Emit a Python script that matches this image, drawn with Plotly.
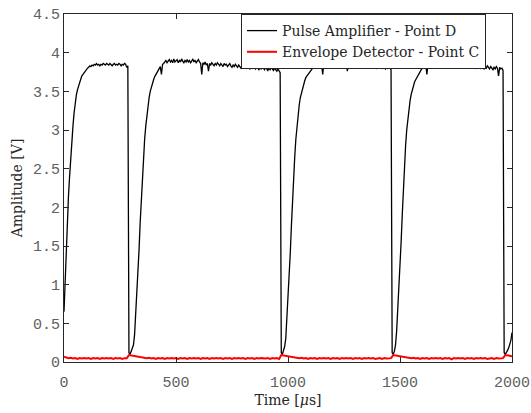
import numpy as np
import plotly.graph_objects as go

# Pulse amplifier (point D), sampled every 5 us, one list per segment
step_d = 5
rise_1 = [0.65, 1.10, 1.47, 1.90, 2.15, 2.40, 2.65, 2.88, 3.05, 3.22,
          3.35, 3.45, 3.52, 3.58, 3.63, 3.66, 3.70, 3.72, 3.75, 3.77,
          3.79, 3.80, 3.81, 3.83, 3.82]  # t = 0 .. 120
plateau_1 = [3.84, 3.83, 3.85, 3.84, 3.86, 3.84, 3.85, 3.83, 3.85, 3.84,
             3.86, 3.85, 3.84, 3.86, 3.85, 3.84, 3.86, 3.85, 3.83, 3.85,
             3.86, 3.84, 3.85, 3.84, 3.86, 3.85, 3.83, 3.85, 3.84, 3.86,
             3.85, 3.81, 3.83]  # t = 125 .. 285
rise_2 = [0.12, 0.10, 0.14, 0.18, 0.22, 0.35, 0.60, 0.85, 1.15, 1.45,
          1.80, 2.10, 2.40, 2.65, 2.88, 3.05, 3.20, 3.33, 3.42, 3.50,
          3.56, 3.61, 3.65, 3.69, 3.72, 3.74, 3.77, 3.79, 3.82, 3.72,
          3.85, 3.86]  # t = 290 .. 445
plateau_2 = [3.88, 3.90, 3.87, 3.89, 3.91, 3.88, 3.90, 3.87, 3.92, 3.88,
             3.89, 3.91, 3.87, 3.90, 3.88, 3.92, 3.89, 3.87, 3.90, 3.88,
             3.91, 3.88, 3.90, 3.87, 3.89, 3.92, 3.88, 3.90, 3.87, 3.89,
             3.91, 3.88, 3.86, 3.72, 3.87, 3.85, 3.88, 3.84, 3.86, 3.76,
             3.86, 3.84, 3.87, 3.85, 3.83, 3.86, 3.84, 3.87, 3.85, 3.83,
             3.86, 3.84, 3.82, 3.86, 3.84, 3.85, 3.82, 3.84, 3.86, 3.83,
             3.81, 3.84, 3.82, 3.85, 3.83, 3.81, 3.84, 3.82, 3.80, 3.83,
             3.81, 3.84, 3.82, 3.80, 3.83, 3.81, 3.79, 3.82, 3.80, 3.83,
             3.81, 3.79, 3.82, 3.80, 3.78, 3.81, 3.79, 3.82, 3.80, 3.78,
             3.81, 3.79, 3.77, 3.80, 3.78, 3.81, 3.79, 3.77, 3.80, 3.78,
             3.76, 3.79, 3.77, 3.74]  # t = 450 .. 965
rise_3 = [0.12, 0.10, 0.15, 0.20, 0.30, 0.55, 0.80, 1.05, 1.40, 1.75,
          2.10, 2.40, 2.65, 2.88, 3.05, 3.20, 3.32, 3.42, 3.48, 3.55,
          3.60, 3.64, 3.68, 3.70, 3.73, 3.75, 3.77, 3.79, 3.80, 3.82,
          3.81, 3.84]  # t = 970 .. 1125
plateau_3 = [3.83, 3.86, 3.84, 3.88, 3.85, 3.72, 3.86, 3.84, 3.88, 3.85,
             3.83, 3.87, 3.84, 3.86, 3.90, 3.84, 3.86, 3.83, 3.87, 3.85,
             3.84, 3.88, 3.85, 3.83, 3.86, 3.84, 3.87, 3.76, 3.85, 3.83,
             3.86, 3.84, 3.87, 3.85, 3.83, 3.86, 3.84, 3.82, 3.85, 3.83,
             3.86, 3.84, 3.82, 3.85, 3.83, 3.81, 3.84, 3.82, 3.85, 3.83,
             3.81, 3.84, 3.82, 3.80, 3.83, 3.81, 3.84, 3.82, 3.80, 3.83,
             3.81, 3.79, 3.82, 3.80, 3.83, 3.81, 3.78]  # t = 1130 .. 1460
rise_4 = [0.12, 0.10, 0.14, 0.22, 0.40, 0.65, 0.90, 1.20, 1.55, 1.90,
          2.25, 2.55, 2.80, 3.00, 3.15, 3.28, 3.38, 3.46, 3.52, 3.57,
          3.62, 3.65, 3.68, 3.71, 3.73, 3.75, 3.78, 3.80, 3.82, 3.81,
          3.84, 3.72, 3.85]  # t = 1465 .. 1625
plateau_4 = [3.87, 3.84, 3.86, 3.89, 3.85, 3.87, 3.84, 3.88, 3.86, 3.84,
             3.87, 3.85, 3.83, 3.86, 3.84, 3.87, 3.85, 3.83, 3.86, 3.84,
             3.82, 3.85, 3.83, 3.86, 3.84, 3.82, 3.85, 3.83, 3.86, 3.84,
             3.82, 3.85, 3.83, 3.81, 3.84, 3.82, 3.85, 3.83, 3.81, 3.84,
             3.82, 3.80, 3.83, 3.81, 3.84, 3.82, 3.80, 3.83, 3.81, 3.79,
             3.82, 3.80, 3.83, 3.81, 3.79, 3.82, 3.80, 3.78, 3.81, 3.79,
             3.82, 3.80, 3.70, 3.81, 3.79, 3.80, 3.77]  # t = 1630 .. 1960
tail = [0.12, 0.10, 0.12, 0.15, 0.18, 0.22, 0.28, 0.38]  # t = 1965 .. 2000

# Envelope detector (point C), sampled every 10 us
step_c = 10
envelope_v = [
    0.070, 0.060, 0.050, 0.055, 0.045, 0.050, 0.040, 0.050, 0.045, 0.050,
    0.045, 0.050, 0.040, 0.050, 0.045, 0.050, 0.040, 0.050, 0.045, 0.050,
    0.045, 0.050, 0.040, 0.050, 0.045, 0.050, 0.040, 0.050, 0.050, 0.090,
    0.085, 0.080, 0.075, 0.070, 0.065, 0.060, 0.055, 0.050, 0.055, 0.045,
    0.050, 0.040, 0.050, 0.045, 0.050, 0.040, 0.050, 0.045, 0.050, 0.045,
    0.050, 0.040, 0.050, 0.045, 0.050, 0.040, 0.050, 0.045, 0.050, 0.045,
    0.050, 0.040, 0.050, 0.045, 0.050, 0.040, 0.050, 0.045, 0.050, 0.045,
    0.050, 0.040, 0.050, 0.045, 0.050, 0.040, 0.050, 0.045, 0.050, 0.045,
    0.050, 0.040, 0.050, 0.045, 0.050, 0.040, 0.050, 0.045, 0.050, 0.045,
    0.045, 0.050, 0.040, 0.050, 0.045, 0.050, 0.040, 0.090, 0.085, 0.080,
    0.075, 0.070, 0.065, 0.060, 0.055, 0.050, 0.055, 0.045, 0.050, 0.040,
    0.050, 0.045, 0.050, 0.040, 0.050, 0.045, 0.050, 0.045, 0.050, 0.040,
    0.050, 0.045, 0.050, 0.040, 0.050, 0.045, 0.050, 0.045, 0.050, 0.040,
    0.050, 0.045, 0.050, 0.040, 0.050, 0.045, 0.050, 0.045, 0.050, 0.040,
    0.045, 0.050, 0.040, 0.050, 0.045, 0.050, 0.050, 0.090, 0.085, 0.080,
    0.075, 0.070, 0.065, 0.060, 0.055, 0.050, 0.055, 0.045, 0.050, 0.040,
    0.050, 0.045, 0.050, 0.040, 0.050, 0.045, 0.050, 0.045, 0.050, 0.040,
    0.050, 0.045, 0.050, 0.035, 0.050, 0.045, 0.050, 0.045, 0.050, 0.040,
    0.050, 0.045, 0.050, 0.040, 0.050, 0.045, 0.050, 0.045, 0.050, 0.040,
    0.045, 0.050, 0.040, 0.050, 0.045, 0.050, 0.050, 0.090, 0.085, 0.080,
    0.075,
]

x_ticks = [0, 500, 1000, 1500, 2000]
y_ticks = [0, 0.5, 1, 1.5, 2, 2.5, 3, 3.5, 4, 4.5]

# Build the time base of each segment from its start time
segments = [(0, rise_1), (125, plateau_1), (290, rise_2), (450, plateau_2),
            (970, rise_3), (1130, plateau_3), (1465, rise_4),
            (1630, plateau_4), (1965, tail)]
t_d, v_d = [], []
for start, vals in segments:
    t_d.extend(start + step_d * np.arange(len(vals)))
    v_d.extend(vals)
t_c = step_c * np.arange(len(envelope_v))

fig = go.Figure()
fig.add_trace(go.Scatter(
    x=t_d, y=v_d, mode='lines',
    name='Pulse Amplifier - Point D',
    line=dict(color='black', width=1.3)
))
fig.add_trace(go.Scatter(
    x=t_c, y=envelope_v, mode='lines',
    name='Envelope Detector - Point C',
    line=dict(color='#ff0000', width=2)
))

axis_style = dict(
    showline=True, linecolor='#262626', linewidth=1, mirror='ticks',
    ticks='inside', ticklen=5, tickcolor='#262626', showgrid=False,
    zeroline=False, automargin=False,
    tickfont=dict(family='Liberation Mono', size=15, color='#606060'),
    title_font=dict(family='DejaVu Serif', size=14, color='#262626'),
)

fig.update_layout(
    width=531, height=413,
    margin=dict(l=64, r=19, t=14, b=51),
    plot_bgcolor='white', paper_bgcolor='white',
    xaxis=dict(range=[0, 2000], tickvals=x_ticks, ticklabelstandoff=6,
               title=dict(text='Time [<i>μ</i>s]', standoff=2), **axis_style),
    yaxis=dict(range=[0, 4.5], tickvals=y_ticks,
               ticktext=[f'{v:g}' for v in y_ticks],
               title=dict(text='Amplitude [V]', standoff=7), **axis_style),
    legend=dict(
        x=0.942, y=1, xanchor='right', yanchor='top',
        bgcolor='white', bordercolor='#262626', borderwidth=1,
        font=dict(family='DejaVu Serif', size=14, color='#262626'),
        tracegroupgap=0, itemwidth=30,
    ),
    showlegend=True,
)

# drop the browser's default page margin so the figure sits at (0, 0)
fig.write_html('out.html', config={'displayModeBar': False},
               post_script="document.body.style.margin='0';")
